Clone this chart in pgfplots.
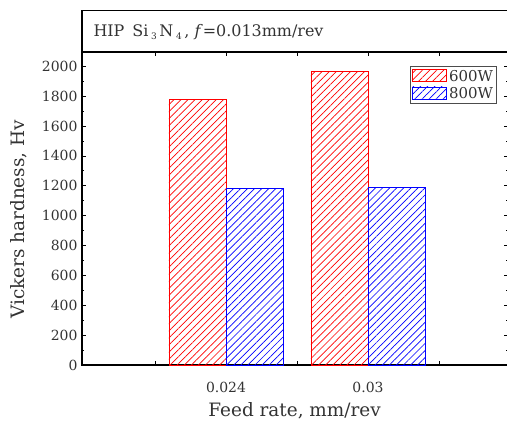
\documentclass[border=0pt]{standalone}
\usepackage{fontspec}
\setmainfont{DejaVu Serif}
\usepackage{pgfplots}
\pgfplotsset{compat=1.18}
\usetikzlibrary{patterns.meta}

\begin{document}
\begin{tikzpicture}[x=1bp,y=1bp]
  \begin{axis}[
      at={(0,0)}, anchor=south west,
      scale only axis, width=426bp, height=313bp,
      xmin=-1.014, xmax=1.986, ymin=0, ymax=2095,
      ybar=0pt, bar width=57bp,
      xtick={-0.5,0,0.5,1,1.5}, xticklabels={,0.024,,0.03,},
      ytick={0,200,...,2000}, minor y tick num=1,
      tick align=inside, xtick pos=both, ytick pos=both,
      major tick length=4bp, minor tick length=2.5bp,
      every tick/.style={black, line width=0.6bp},
      axis line style={line width=1.2bp},
      /pgf/number format/assume math mode=true,
      /pgf/number format/1000 sep={},
      ticklabel style={font=\fontsize{14}{16}\selectfont, text=black!80},
      xticklabel style={anchor=base, yshift=-27bp},
      yticklabel style={xshift=-1bp},
      xlabel={Feed rate, mm/rev},
      ylabel={Vickers hardness, Hv},
      label style={font=\fontsize{18.5}{20}\selectfont, text=black!80},
      xlabel style={at={(axis description cs:0.499,-0.166)}, anchor=base},
      ylabel style={at={(axis description cs:-0.148,0.465)}, anchor=center},
      legend style={at={(0.974,0.955)}, anchor=north east,
        draw=black!70, line width=1bp, font=\fontsize{15}{17}\selectfont,
        inner sep=1.5bp, row sep=1bp, text=black!80},
      legend image code/.code={
        \draw[#1, line width=0.8bp] (0bp,-5.5bp) rectangle (34bp,7bp);},
    ]
    \addplot[draw=red, line width=0.8bp,
      pattern={Lines[angle=45,distance=5bp,line width=0.7bp]}, pattern color=red]
      coordinates {(0,1777) (1,1962)};
    \addplot[draw=blue, line width=0.8bp,
      pattern={Lines[angle=45,distance=5bp,line width=0.7bp]}, pattern color=blue]
      coordinates {(0,1179) (1,1186)};
    \legend{600W, 800W}
  \end{axis}

  % title band above the axis
  \draw[line width=1.2bp] (0,313) rectangle (430,354.7);
  \node[anchor=west, font=\fontsize{16}{18}\selectfont, text=black!80] at (8,333)
    {HIP\enspace Si\,{\fontsize{9}{10}\selectfont\raisebox{-3bp}{3}}\,N\,{\fontsize{9}{10}\selectfont\raisebox{-3bp}{4}}\,, \textit{f}=0.013mm/rev};

  \pgfresetboundingbox
  \path[use as bounding box] (-82,-57) rectangle (425,365);
\end{tikzpicture}
\end{document}
